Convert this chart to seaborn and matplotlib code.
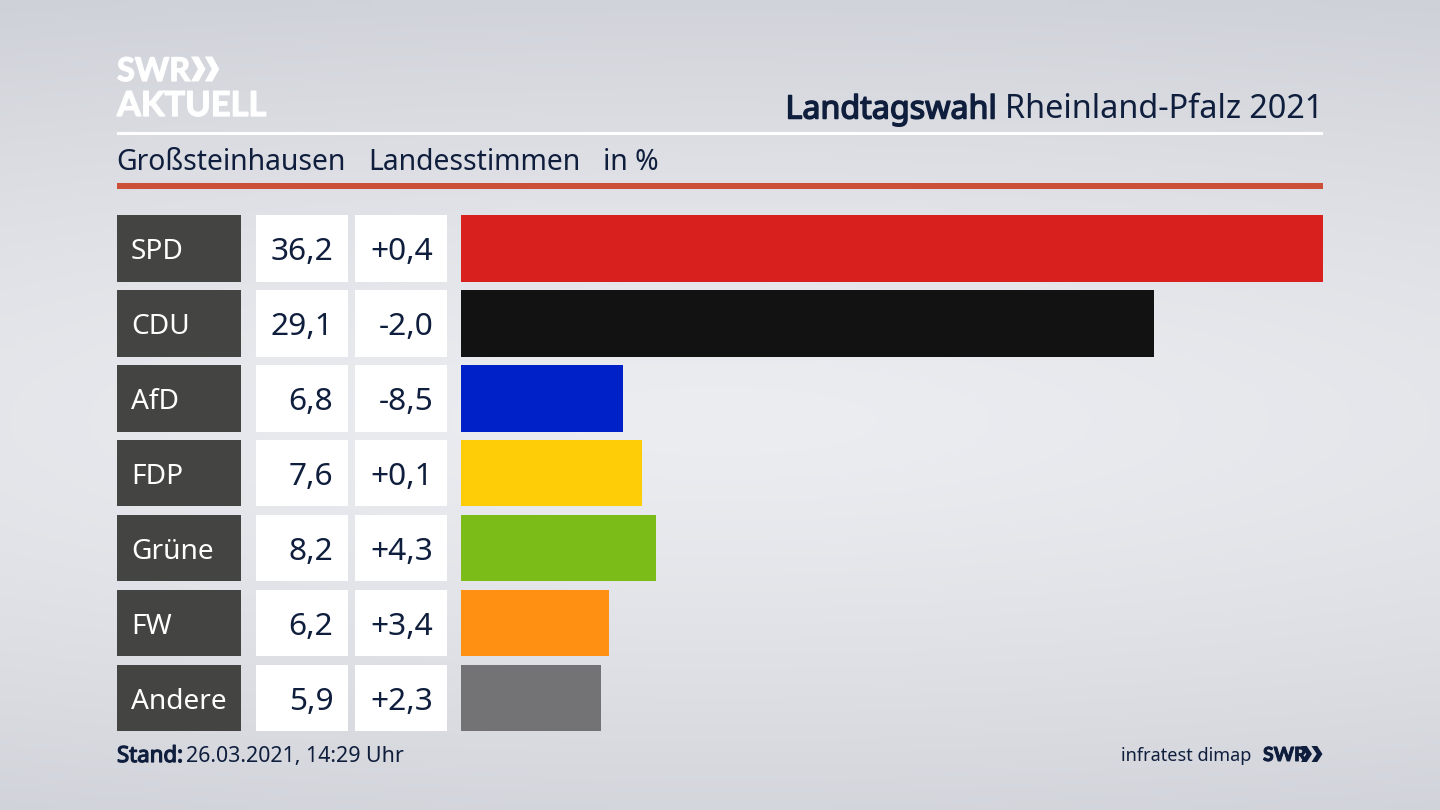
import numpy as np
import pandas as pd
import seaborn as sns
import matplotlib
matplotlib.use("Agg")
import matplotlib.pyplot as plt
import matplotlib.patheffects as pe
from matplotlib.patches import Rectangle, Polygon
from matplotlib.transforms import blended_transform_factory

parties = ["SPD", "CDU", "AfD", "FDP", "Grüne", "FW", "Andere"]
shares = [36.2, 29.1, 6.8, 7.6, 8.2, 6.2, 5.9]
changes = ["+0,4", "-2,0", "-8,5", "+0,1", "+4,3", "+3,4", "+2,3"]
colors = ["#d8201f", "#121212", "#0020c8", "#ffcc08", "#7bbc18", "#ff9012", "#737375"]

INK = "#0f1e3c"
FONT = "Noto Sans"
W, H = 1440, 810
sns.set_theme(style="white")
plt.rcParams["font.family"] = [FONT, "DejaVu Sans"]

fig = plt.figure(figsize=(W / 100, H / 100), dpi=100)

def heavy(color, lw):
    return [pe.withStroke(linewidth=lw, foreground=color)]

# page: background gradient, everything laid out in pixels
page = fig.add_axes([0, 0, 1, 1], zorder=0)
page.axis("off")
yy, xx = np.mgrid[0:1:81j, 0:1:144j]
d = np.sqrt(((yy - 0.52) / 0.62) ** 2 + ((xx - 0.5) / 1.6) ** 2)
t = np.clip(d, 0, 1) ** 1.3
c0, c1 = np.array([0xec, 0xed, 0xf1]) / 255, np.array([0xca, 0xcd, 0xd4]) / 255
page.imshow(c0 + (c1 - c0) * t[..., None], extent=[0, W, H, 0], aspect="auto", interpolation="bilinear")
page.set_xlim(0, W)
page.set_ylim(H, 0)

# bars
ax = fig.add_axes([461 / W, 1 - 735.5 / H, 862 / W, 524.5 / H], zorder=2)
df = pd.DataFrame({"Partei": parties, "Anteil": shares})
sns.barplot(data=df, y="Partei", x="Anteil", hue="Partei", order=parties, hue_order=parties,
            palette=dict(zip(parties, colors)), saturation=1, width=0.887, dodge=False,
            legend=False, linewidth=0, edgecolor="none", ax=ax)
ax.set_xlim(0, max(shares))
ax.set_ylim(6.5, -0.5)
ax.axis("off")
ax.patch.set_alpha(0)

# table cells aligned to the bar rows
tr = blended_transform_factory(page.transData, ax.transData)
cells = [(117, 241, "#444442"), (256, 348, "white"), (355, 447, "white")]
for i, (party, share, change) in enumerate(zip(parties, shares, changes)):
    for x0, x1, fc in cells:
        ax.add_patch(Rectangle((x0, i - 0.4435), x1 - x0, 0.887, transform=tr, fc=fc, ec="none", clip_on=False))
    ax.text(131, i, party, transform=tr, color="white", fontsize=20.2, va="center_baseline", ha="left")
    ax.text(333.5, i, f"{share:.1f}".replace(".", ","), transform=tr, color=INK, fontsize=22.8, va="center_baseline", ha="right")
    ax.text(433.5, i, change, transform=tr, color=INK, fontsize=22.8, va="center_baseline", ha="right")

# header rules
page.add_patch(Rectangle((117, 132), 1206, 3, fc="white", ec="none"))
page.add_patch(Rectangle((117, 183), 1206, 6, fc="#cc5038", ec="none"))

# header text
page.text(116.5, 159.3, "Großsteinhausen", color=INK, fontsize=20.4, va="center_baseline")
page.text(368.5, 159.3, "Landesstimmen", color=INK, fontsize=20.4, va="center_baseline")
page.text(603, 159.3, "in %", color=INK, fontsize=20.4, va="center_baseline")
page.text(1323.5, 106, "Rheinland-Pfalz 2021", color=INK, fontsize=23.3, ha="right", va="center_baseline")
page.text(997, 106, "Landtagswahl", color=INK, fontsize=23.2, ha="right", va="center_baseline",
          path_effects=heavy(INK, 1.1))

# logo
page.text(117, 69, "SWR", color="white", fontsize=23.5, fontweight="bold", va="center_baseline", family="Lato",
          path_effects=heavy("white", 0.9))
page.text(117, 103, "AKTUELL", color="white", fontsize=24.8, fontweight="bold", va="center_baseline", family="Lato",
          path_effects=heavy("white", 0.9))

def chevrons(x, y, h, w, color):
    for dx in (0, w * 0.95):
        page.add_patch(Polygon([(x + dx, y - h / 2), (x + dx + w * 0.52, y - h / 2), (x + dx + w, y),
                                (x + dx + w * 0.52, y + h / 2), (x + dx, y + h / 2), (x + dx + w * 0.48, y)],
                               fc=color, ec="none"))

chevrons(191, 69, 25, 14.5, "white")

# footer
page.text(117, 754, "Stand:", color=INK, fontsize=16, va="center_baseline", path_effects=heavy(INK, 0.9))
page.text(186, 754, "26.03.2021, 14:29 Uhr", color=INK, fontsize=15.4, va="center_baseline")
page.text(1251, 754, "infratest dimap", color=INK, fontsize=13, ha="right", va="center_baseline")
page.text(1263, 754, "SWR", color=INK, fontsize=14, fontweight="bold", va="center_baseline", family="Lato",
          path_effects=heavy(INK, 0.7))
chevrons(1301, 754, 16, 11, INK)

fig.savefig("out.png", dpi=100)
